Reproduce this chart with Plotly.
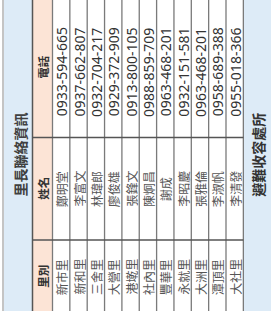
import plotly.graph_objects as go

# ---- data ----
title_text = "里長聯絡資訊"
footer_text = "避難收容處所"
col_headers = ["電話", "姓名", "里別"]
districts = ["新市里", "新和里", "三舍里", "大營里", "港墘里", "社內里",
             "豐華里", "永就里", "大洲里", "潭頂里", "大社里"]
names = ["鄭明堂", "李富文", "林瑋郎", "廖俊雄", "張鋒文", "陳炯昌",
         "謝成", "李昭慶", "張雅倫", "李淑帆", "李清發"]
phones = ["0933-594-665", "0937-662-807", "0932-704-217", "0929-372-909",
          "0913-800-105", "0988-859-709", "0963-468-201", "0932-151-581",
          "0963-468-201", "0958-689-388", "0955-018-366"]

# ---- geometry (rotated table: rows run left->right) ----
W, H = 271, 311
row0 = 52.5
row_w = 17.35
hdr0, hdr1 = 33, row0
band0, band1 = 4, 32.5
col_bounds = [0, 137.5, 240, H]   # phone | name | district
col_text_y = [72, 189, 277]
hdr_text_y = [67, 188, 276]

CJK = "Noto Sans CJK TC"
NUM = "Noto Sans"
BLUE = "#ddebf7"
PEACH = "#fce4d6"

fig = go.Figure()
fig.add_trace(go.Scatter(x=[0, W], y=[0, H], mode="markers",
                         marker=dict(opacity=0), hoverinfo="skip",
                         showlegend=False))

n = len(districts)
last = row0 + n * row_w
shapes = []
shapes.append(dict(type="rect", x0=band0, x1=band1, y0=0, y1=H,
                   fillcolor=BLUE, line=dict(width=0), layer="below"))
shapes.append(dict(type="line", x0=3, x1=3, y0=0, y1=H,
                   line=dict(color="#b0b0b0", width=1.5)))
shapes.append(dict(type="rect", x0=hdr0, x1=hdr1, y0=0, y1=H,
                   fillcolor=PEACH, line=dict(width=0), layer="below"))
shapes.append(dict(type="line", x0=band1, x1=band1, y0=0, y1=H,
                   line=dict(color="#555555", width=1.5)))
shapes.append(dict(type="rect", x0=last, x1=W, y0=0, y1=H,
                   fillcolor=BLUE, line=dict(width=0), layer="below"))
for k in range(n + 1):
    xk = row0 + k * row_w
    shapes.append(dict(type="line", x0=xk, x1=xk, y0=0, y1=H,
                       line=dict(color="#7a7a7a", width=1.3)))
for yb in col_bounds[1:-1]:
    shapes.append(dict(type="line", x0=band1, x1=last, y0=yb, y1=yb,
                       line=dict(color="#555555", width=1.3)))

ann = []
ann.append(dict(x=19.5, y=155, text="<b>" + title_text + "</b>", textangle=-90,
                showarrow=False, font=dict(family=CJK, size=14, color="#404040"),
                xanchor="center", yanchor="middle"))
ann.append(dict(x=(last + W) / 2 + 0.5, y=155, text="<b>" + footer_text + "</b>",
                textangle=-90, showarrow=False,
                font=dict(family=CJK, size=14, color="#333333"),
                xanchor="center", yanchor="middle"))
for h, yh in zip(col_headers, hdr_text_y):
    ann.append(dict(x=(hdr0 + hdr1) / 2, y=yh, text="<b>" + h + "</b>",
                    textangle=-90, showarrow=False,
                    font=dict(family=CJK, size=11.5, color="#333333"),
                    xanchor="center", yanchor="middle"))
for i in range(n):
    xc = row0 + (i + 0.5) * row_w
    ann.append(dict(x=xc, y=col_text_y[0], text=phones[i], textangle=-90,
                    showarrow=False, font=dict(family=NUM, size=14, color="#333333"),
                    xanchor="center", yanchor="middle"))
    ann.append(dict(x=xc, y=col_text_y[1], text=names[i], textangle=-90,
                    showarrow=False, font=dict(family=CJK, size=12, color="#555555"),
                    xanchor="center", yanchor="middle"))
    ann.append(dict(x=xc, y=col_text_y[2], text=districts[i], textangle=-90,
                    showarrow=False, font=dict(family=CJK, size=12, color="#555555"),
                    xanchor="center", yanchor="middle"))

fig.update_layout(
    width=W, height=H, margin=dict(l=0, r=0, t=0, b=0),
    paper_bgcolor="white", plot_bgcolor="white",
    xaxis=dict(range=[0, W], visible=False, fixedrange=True),
    yaxis=dict(range=[H, 0], visible=False, fixedrange=True),
    shapes=shapes, annotations=ann, showlegend=False,
)
fig.write_html("out.html", config={"displayModeBar": False},
               post_script="document.body.style.margin='0';"
                           "document.body.style.padding='0';")
